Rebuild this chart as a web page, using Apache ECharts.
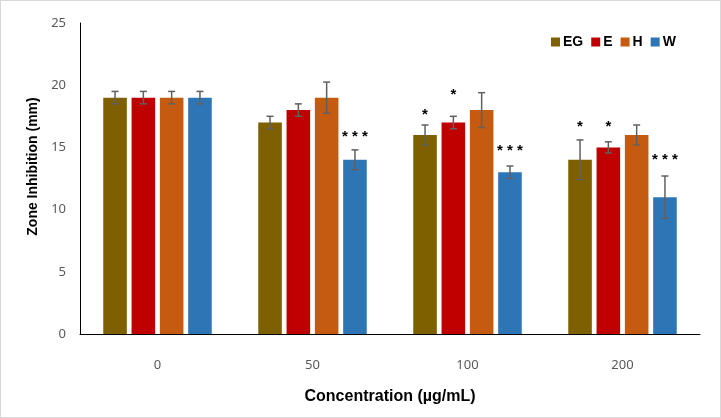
<!DOCTYPE html>
<html>
<head>
<meta charset="utf-8">
<script src="https://cdn.jsdelivr.net/npm/echarts@6/dist/echarts.min.js"></script>
<style>
  html, body { margin: 0; padding: 0; background: #fff; }
  #main { width: 721px; height: 418px; box-sizing: border-box; border: 1px solid #d9d9d9; }
</style>
</head>
<body>
<div id="main"></div>
<script>
// concentration groups
var categories = ['0', '50', '100', '200'];
var seriesNames = ['EG', 'E', 'H', 'W'];
var colors = ['#7F6000', '#C00000', '#C55A11', '#2E75B6'];

// zone inhibition (mm)
var egValues = [19, 17, 16, 14];
var eValues = [19, 18, 17, 15];
var hValues = [19, 19, 18, 16];
var wValues = [19, 14, 13, 11];

// error (+/-)
var egErr = [0.5, 0.5, 0.8, 1.6];
var eErr = [0.5, 0.5, 0.5, 0.45];
var hErr = [0.5, 1.25, 1.4, 0.8];
var wErr = [0.5, 0.8, 0.5, 1.7];

// significance marks and the height they sit at
var egStars = ['', '', '*', '*'];
var eStars = ['', '', '*', '*'];
var hStars = ['', '', '', ''];
var wStars = ['', '* * *', '* * *', '* * *'];
var egStarY = [0, 0, 17.7, 16.7];
var eStarY = [0, 0, 19.3, 16.7];
var hStarY = [0, 0, 0, 0];
var wStarY = [0, 15.9, 14.8, 14.1];

var yTicks = [0, 5, 10, 15, 20, 25];

var allValues = [egValues, eValues, hValues, wValues];
var allErr = [egErr, eErr, hErr, wErr];
var allStars = [egStars, eStars, hStars, wStars];
var allStarY = [egStarY, eStarY, hStarY, wStarY];

var marks = [];
var markInfo = [];
for (var s = 0; s < 4; s++) {
  for (var c = 0; c < categories.length; c++) {
    marks.push([c, s, allValues[s][c], allErr[s][c], allStarY[s][c]]);
    markInfo.push(allStars[s][c]);
  }
}

var barSeries = seriesNames.map(function (name, i) {
  return {
    name: name,
    type: 'bar',
    data: allValues[i],
    barGap: '20%',
    barCategoryGap: '30%',
    itemStyle: { color: colors[i] }
  };
});

var myChart = echarts.init(document.getElementById('main'));
myChart.setOption({
  animation: false,
  textStyle: { fontFamily: 'Liberation Sans' },
  grid: { left: 79, right: 20, top: 22, bottom: 83 },
  legend: {
    data: seriesNames,
    left: 545,
    top: 29,
    icon: 'rect',
    itemWidth: 9,
    itemHeight: 9,
    itemGap: 8,
    textStyle: { fontSize: 14, fontWeight: 'bold', color: '#000', padding: [0, 0, 0, -2] }
  },
  xAxis: {
    type: 'category',
    data: categories,
    name: 'Concentration (µg/mL)',
    nameLocation: 'middle',
    nameGap: 55,
    nameTextStyle: { fontSize: 16, fontWeight: 'bold', color: '#000' },
    axisLine: { lineStyle: { color: '#000', width: 1 } },
    axisTick: { show: false },
    axisLabel: { color: '#595959', fontSize: 13, margin: 25, fontFamily: 'Noto Sans' }
  },
  yAxis: {
    type: 'value',
    min: 0,
    max: 25,
    interval: 5,
    name: 'Zone Inhibition (mm)',
    nameLocation: 'middle',
    nameGap: 36,
    nameTextStyle: { fontSize: 14, fontWeight: 'bold', color: '#000', padding: [0, 0, 0, 24] },
    axisLine: { show: true, lineStyle: { color: '#000', width: 1 } },
    axisTick: { show: false },
    splitLine: { show: false },
    axisLabel: {
      color: '#595959', fontSize: 13, margin: 14, fontFamily: 'Noto Sans',
      formatter: function (v) { return yTicks.indexOf(v) >= 0 ? String(v) : ''; }
    }
  },
  series: barSeries.concat([{
    type: 'custom',
    z: 5,
    silent: true,
    data: marks,
    renderItem: function (params, api) {
      var cat = api.value(0), s = api.value(1), v = api.value(2), e = api.value(3), sy = api.value(4);
      var catW = api.size([1, 0])[0];
      var barW = catW * 0.7 / 4.6;
      var x = api.coord([cat, 0])[0] + (s - 1.5) * barW * 1.2;
      var top = api.coord([cat, v + e])[1];
      var bot = api.coord([cat, v - e])[1];
      var st = { stroke: '#606060', lineWidth: 1.5 };
      var children = [
        { type: 'line', shape: { x1: x, y1: top, x2: x, y2: bot }, style: st },
        { type: 'line', shape: { x1: x - 3.5, y1: top, x2: x + 3.5, y2: top }, style: st },
        { type: 'line', shape: { x1: x - 3.5, y1: bot, x2: x + 3.5, y2: bot }, style: st }
      ];
      var star = markInfo[params.dataIndex];
      if (star) {
        children.push({
          type: 'text',
          style: {
            x: x, y: api.coord([cat, sy])[1] + 1,
            text: star, fill: '#000', font: 'bold 15px "Liberation Sans"',
            align: 'center', verticalAlign: 'middle'
          }
        });
      }
      return { type: 'group', children: children };
    }
  }])
});
</script>
</body>
</html>
